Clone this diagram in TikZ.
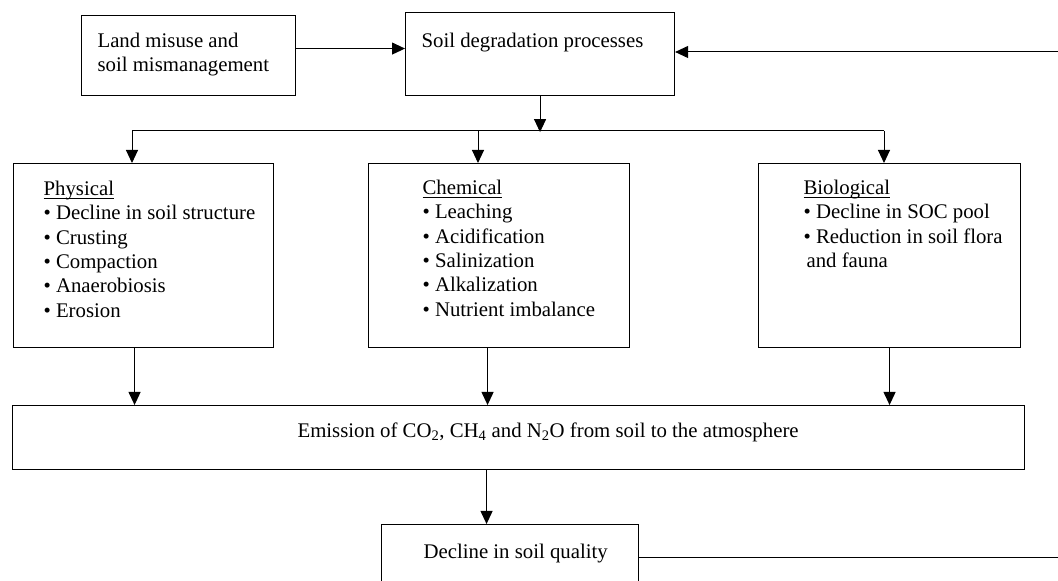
\documentclass[tikz,border=0pt]{standalone}
\usepackage{fontspec}
\setmainfont{Liberation Serif}
\usetikzlibrary{arrows.meta}

% box text: width, height, left pad, first baseline, lines
\newcommand{\boxtext}[5]{\parbox[t][#2][t]{#1}{\raggedright\leftskip=#3\relax\rule{0pt}{#4}#5}}
\newcommand{\itm}{\textbullet~}
\newcommand{\ulword}[1]{\setbox0=\hbox{#1}\rlap{\rule[-3pt]{\wd0}{0.9pt}}\box0}

\tikzset{
	box/.style={draw, line width=1.1pt, anchor=north west, inner sep=0pt, font=\fontsize{20.8}{24.3}\selectfont},
	arr/.style={line width=1pt, -{Triangle[length=13pt,width=12pt]}},
	link/.style={line width=1pt}
}

\begin{document}
\begin{tikzpicture}[x=1pt,y=1pt]
	\useasboundingbox (0,0) rectangle (1058,581);
	\clip (0,0) rectangle (1058,581);

	% TOP ROW
	\node[box] (land) at (81,566) {\boxtext{214pt}{80pt}{16pt}{32pt}{Land misuse and\\soil mismanagement}};
	\node[box] (soil) at (405,569) {\boxtext{269pt}{83pt}{16pt}{35pt}{Soil degradation processes}};

	% PROCESSES
	\node[box] (phys) at (13,418) {\boxtext{260pt}{184pt}{30pt}{32pt}{\ulword{Physical}\\\itm Decline in soil structure\\\itm Crusting\\\itm Compaction\\\itm Anaerobiosis\\\itm Erosion}};
	\node[box] (chem) at (368,418) {\boxtext{261pt}{184pt}{54pt}{31pt}{\ulword{Chemical}\\\itm Leaching\\\itm Acidification\\\itm Salinization\\\itm Alkalization\\\itm Nutrient imbalance}};
	\node[box] (bio) at (758,418) {\boxtext{262pt}{184pt}{45pt}{31pt}{\ulword{Biological}\\\itm Decline in SOC pool\\\itm Reduction in soil flora\\\hspace*{3pt}and fauna}};

	% EMISSION AND QUALITY
	\node[box] (emis) at (12,176) {\boxtext{1012pt}{64pt}{285pt}{32pt}{Emission of CO\textsubscript{2}, CH\textsubscript{4} and N\textsubscript{2}O from soil to the atmosphere}};
	\node[box] (decl) at (381,57) {\boxtext{257pt}{80pt}{42pt}{34pt}{Decline in soil quality}};

	% points on the lines
	\coordinate (lout) at ([yshift=7pt]land.east);
	\coordinate (split) at ([yshift=-36pt]soil.south);
	\coordinate (bphys) at (132,450);
	\coordinate (bchem) at (478,450);
	\coordinate (bbio) at (884,450);
	\coordinate (pout) at ([xshift=-9pt]phys.south);
	\coordinate (cout) at ([xshift=-11.5pt]chem.south);
	\coordinate (eout) at ([xshift=-32pt]emis.south);
	\coordinate (fbin) at (1058,529);
	\coordinate (fbout) at (1058,23);

	\draw[arr] (lout) -- (lout -| soil.west);
	\draw[arr] (fbin) -- (fbin -| soil.east);
	\draw[arr] (soil.south) -- (split);
	\draw[link] (bphys) -- (bbio);
	\draw[arr] (bphys) -- (bphys |- phys.north);
	\draw[arr] (bchem) -- (bchem |- chem.north);
	\draw[arr] (bbio) -- (bbio |- bio.north);

	\draw[arr] (pout) -- (pout |- emis.north);
	\draw[arr] (cout) -- (cout |- emis.north);
	\draw[arr] (bio.south) -- (bio.south |- emis.north);
	\draw[arr] (eout) -- (eout |- decl.north);
	\draw[link] (decl.east |- fbout) -- (fbout);
\end{tikzpicture}
\end{document}
